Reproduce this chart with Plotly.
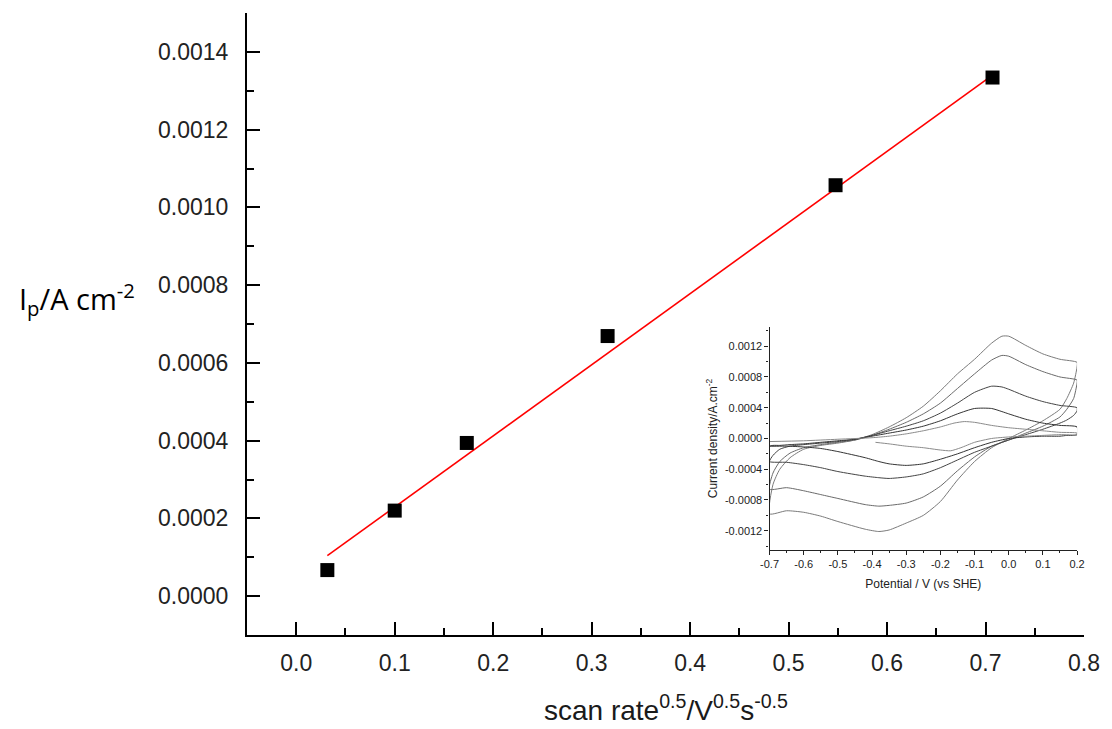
import plotly.graph_objects as go

# ---------------- main data ----------------
scan_rate_sqrt = [0.0316, 0.1000, 0.1732, 0.3162, 0.5477, 0.7071]
peak_current = [0.000067, 0.000220, 0.000394, 0.000669, 0.001057, 0.001334]
fit_x = [0.0316, 0.7071]
fit_y = [0.000104, 0.001340]

main_xticks = [0.0, 0.1, 0.2, 0.3, 0.4, 0.5, 0.6, 0.7, 0.8]
main_yticks = [0.0, 0.0002, 0.0004, 0.0006, 0.0008, 0.0010, 0.0012, 0.0014]

# ---------------- inset CV data ----------------
E_fwd = [-0.70, -0.69, -0.67, -0.64, -0.60, -0.55, -0.50, -0.45, -0.40, -0.35, -0.30,
         -0.25, -0.20, -0.15, -0.10, -0.05, -0.02, 0.00, 0.05, 0.10, 0.15, 0.20]
E_rev = [0.20, 0.19, 0.17, 0.15, 0.10, 0.05, 0.00, -0.05, -0.10, -0.15, -0.20,
         -0.25, -0.30, -0.35, -0.38, -0.42, -0.50, -0.55, -0.60, -0.65, -0.70]

cv5_fwd = [-0.00098, -0.00060, -0.00040, -0.00025, -0.00014, -0.00009, -0.00006, -0.00002, 0.00005, 0.00015,
           0.00027, 0.00042, 0.00062, 0.00084, 0.00103, 0.00124, 0.00133, 0.00133, 0.00121, 0.00110, 0.00103, 0.00099]
cv5_rev = [0.00093, 0.00072, 0.00052, 0.00038, 0.00023, 0.00011, 0.00000, -0.00012, -0.00030, -0.00054, -0.00082,
           -0.00100, -0.00110, -0.00119, -0.00121, -0.00118, -0.00108, -0.00101, -0.00096, -0.00094, -0.00098]

cv4_fwd = [-0.00066, -0.00045, -0.00030, -0.00019, -0.00012, -0.00008, -0.00005, -0.00002, 0.00004, 0.00012,
           0.00021, 0.00032, 0.00046, 0.00065, 0.00084, 0.00102, 0.00108, 0.00107, 0.00096, 0.00087, 0.00080, 0.00076]
cv4_rev = [0.00072, 0.00052, 0.00038, 0.00028, 0.00016, 0.00007, -0.00002, -0.00010, -0.00024, -0.00042, -0.00062,
           -0.00076, -0.00084, -0.00087, -0.00088, -0.00086, -0.00078, -0.00073, -0.00068, -0.00064, -0.00066]

cv3_fwd = [-0.00030, -0.00022, -0.00014, -0.00010, -0.00008, -0.00006, -0.00004, -0.00001, 0.00004, 0.00010,
           0.00016, 0.00023, 0.00033, 0.00046, 0.00060, 0.00068, 0.00067, 0.00064, 0.00055, 0.00048, 0.00043, 0.00040]
cv3_rev = [0.00036, 0.00030, 0.00024, 0.00020, 0.00012, 0.00005, -0.00002, -0.00010, -0.00018, -0.00028, -0.00038,
           -0.00046, -0.00050, -0.00052, -0.00051, -0.00049, -0.00043, -0.00038, -0.00034, -0.00031, -0.00030]

cv2_fwd = [-0.00010, -0.00009, -0.00009, -0.00008, -0.00007, -0.00005, -0.00003, -0.00001, 0.00003, 0.00007,
           0.00011, 0.00016, 0.00023, 0.00032, 0.00039, 0.00039, 0.00035, 0.00032, 0.00025, 0.00020, 0.00017, 0.00015]
cv2_rev = [0.00005, 0.00004, 0.00004, 0.00003, 0.00003, 0.00002, 0.00000, -0.00005, -0.00012, -0.00020, -0.00027,
           -0.00033, -0.00035, -0.00033, -0.00030, -0.00025, -0.00017, -0.00013, -0.00011, -0.00010, -0.00010]

cv1_E = [-0.39, -0.35, -0.30, -0.25, -0.20, -0.17, -0.14, -0.10, -0.05, 0.00, 0.05, 0.10, 0.15, 0.20,
         0.20, 0.15, 0.10, 0.05, 0.00, -0.05, -0.10, -0.13, -0.16, -0.20, -0.25, -0.30, -0.35, -0.40,
         -0.50, -0.60, -0.70]
cv1_I = [-0.00005, -0.00007, -0.00010, -0.00012, -0.00015, -0.00016, -0.00012, -0.00005, 0.00000, 0.00002,
         0.00003, 0.00004, 0.00005, 0.00005, 0.00007, 0.00008, 0.00010, 0.00012, 0.00014, 0.00017, 0.00021,
         0.00022, 0.00020, 0.00015, 0.00010, 0.00006, 0.00003, 0.00001, -0.00001, -0.00003, -0.00004]

inset_xticks = [-0.7, -0.6, -0.5, -0.4, -0.3, -0.2, -0.1, 0.0, 0.1, 0.2]
inset_yticks = [-0.0012, -0.0008, -0.0004, 0.0, 0.0004, 0.0008, 0.0012]

FONT = "Liberation Sans, Arial, sans-serif"

fig = go.Figure()

# fit line
fig.add_trace(go.Scatter(x=fit_x, y=fit_y, mode="lines",
                         line=dict(color="#ff0000", width=1.6), showlegend=False,
                         xaxis="x", yaxis="y"))
# data squares
fig.add_trace(go.Scatter(x=scan_rate_sqrt, y=peak_current, mode="markers",
                         marker=dict(symbol="square", size=14, color="black"),
                         showlegend=False, xaxis="x", yaxis="y"))

# inset CVs
cv_sets = [
    (E_fwd + E_rev, cv5_fwd + cv5_rev, "#7a7a7a"),
    (E_fwd + E_rev, cv4_fwd + cv4_rev, "#6a6a6a"),
    (E_fwd + E_rev, cv3_fwd + cv3_rev, "#444444"),
    (E_fwd + E_rev, cv2_fwd + cv2_rev, "#333333"),
    (cv1_E, cv1_I, "#8a8a8a"),
]
for ex, iy, col in cv_sets:
    fig.add_trace(go.Scatter(x=ex, y=iy, mode="lines", line=dict(color=col, width=1, shape="spline", smoothing=0.6),
                             showlegend=False, xaxis="x2", yaxis="y2"))

fig.update_layout(
    width=1112, height=729,
    margin=dict(l=247, r=24, t=13, b=94),
    paper_bgcolor="white", plot_bgcolor="white",
    font=dict(family=FONT, color="#1a1a1a"),
    xaxis=dict(
        domain=[0, 1], range=[-0.05, 0.8],
        tickmode="array", tickvals=main_xticks, ticktext=[f"{v:.1f}" for v in main_xticks],
        showline=True, linecolor="black", linewidth=2,
        ticks="inside", ticklen=13, tickwidth=2, tickcolor="black",
        minor=dict(ticks="inside", ticklen=7, tickwidth=2, tickcolor="black", dtick=0.05, tick0=0),
        showgrid=False, zeroline=False, tickfont=dict(size=23, family=FONT, color="#222"),
        ticklabelstandoff=6,
    ),
    yaxis=dict(
        domain=[0, 1], range=[-0.0001, 0.0015],
        tickmode="array", tickvals=main_yticks, ticktext=[f"{v:.4f}" for v in main_yticks],
        showline=True, linecolor="black", linewidth=2,
        ticks="inside", ticklen=13, tickwidth=2, tickcolor="black",
        minor=dict(ticks="inside", ticklen=7, tickwidth=2, tickcolor="black", dtick=0.0001, tick0=0),
        showgrid=False, zeroline=False, tickfont=dict(size=23, family=FONT, color="#222"),
        ticklabelstandoff=12,
    ),
    xaxis2=dict(
        domain=[0.6243, 0.9917], anchor="y2", range=[-0.7, 0.2],
        tickmode="array", tickvals=inset_xticks, ticktext=[f"{v:.1f}" for v in inset_xticks],
        showline=True, linecolor="#222", linewidth=1.2,
        ticks="outside", ticklen=4, tickwidth=1, tickcolor="#222",
        minor=dict(ticks="outside", ticklen=2, tickwidth=1, tickcolor="#222", dtick=0.05, tick0=0),
        showgrid=False, zeroline=False, tickfont=dict(size=11, family=FONT, color="#222"),
        title=dict(text="Potential / V (vs SHE)", font=dict(size=12, family=FONT, color="#222"), standoff=10),
    ),
    yaxis2=dict(
        domain=[0.1367, 0.4952], anchor="x2", range=[-0.00145, 0.00145],
        tickmode="array", tickvals=inset_yticks, ticktext=[f"{v:.4f}" for v in inset_yticks],
        showline=True, linecolor="#222", linewidth=1.2,
        ticks="outside", ticklen=4, tickwidth=1, tickcolor="#222",
        minor=dict(ticks="outside", ticklen=2, tickwidth=1, tickcolor="#222", dtick=0.0002, tick0=0),
        showgrid=False, zeroline=False, tickfont=dict(size=11, family=FONT, color="#222"),
        title=dict(text="Current density/A.cm<sup>-2</sup>", font=dict(size=12, family=FONT, color="#222"), standoff=4),
    ),
    annotations=[
        dict(text="I<sub>p</sub>/A cm<sup>-2</sup>", xref="paper", yref="paper",
             x=-0.203, y=0.54, xanchor="center", yanchor="middle", showarrow=False,
             font=dict(size=29, family="Open Sans, Lato, sans-serif", color="black")),
        dict(text="scan rate<sup>0.5</sup>/V<sup>0.5</sup>s<sup>-0.5</sup>", xref="paper", yref="paper",
             x=0.5, y=-0.118, xanchor="center", yanchor="middle", showarrow=False,
             font=dict(size=28, family=FONT, color="#1a1a1a")),
    ],
)

fig.write_html("out.html")
